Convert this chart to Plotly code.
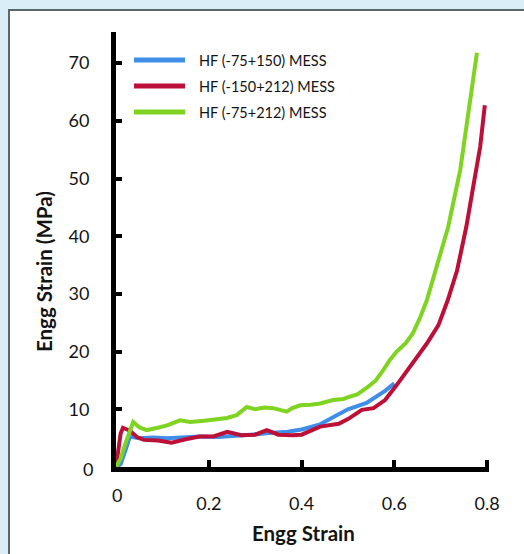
import plotly.graph_objects as go

# Engineering strain / stress curves for three MESS powder fractions
series_names = ["HF (-75+150) MESS", "HF (-150+212) MESS", "HF (-75+212) MESS"]
series_colors = ["#3f8ee8", "#bd1038", "#7fd321"]

strain_blue = [0, 0.01, 0.02, 0.03, 0.05, 0.08, 0.11, 0.15, 0.18, 0.22, 0.25, 0.29,
               0.33, 0.37, 0.40, 0.44, 0.47, 0.50, 0.54, 0.58, 0.60]
stress_blue = [0, 0.5, 2.8, 5.3, 5.0, 5.1, 5.0, 5.2, 5.3, 5.2, 5.3, 5.6,
               5.9, 6.1, 6.5, 7.4, 8.7, 10.0, 11.1, 13.2, 14.5]

strain_red = [0, 0.005, 0.01, 0.015, 0.03, 0.045, 0.06, 0.09, 0.12, 0.15, 0.18, 0.21,
              0.24, 0.27, 0.30, 0.325, 0.35, 0.38, 0.40, 0.44, 0.48, 0.50, 0.53, 0.555,
              0.58, 0.605, 0.635, 0.67, 0.695, 0.715, 0.735, 0.755, 0.77, 0.785, 0.795]
stress_red = [0, 3.0, 5.8, 6.8, 6.3, 5.2, 4.7, 4.6, 4.2, 4.8, 5.3, 5.3,
              6.1, 5.5, 5.6, 6.4, 5.6, 5.5, 5.6, 7.0, 7.5, 8.3, 9.9, 10.2,
              11.6, 14.2, 17.4, 21.4, 24.6, 28.9, 34.0, 41.6, 48.6, 55.5, 62.7]

strain_green = [0, 0.01, 0.02, 0.03, 0.037, 0.05, 0.066, 0.09, 0.11, 0.138, 0.16, 0.19,
                0.215, 0.239, 0.26, 0.282, 0.30, 0.32, 0.339, 0.368, 0.38, 0.397, 0.42,
                0.44, 0.468, 0.49, 0.504, 0.52, 0.54, 0.56, 0.576, 0.59, 0.605, 0.625,
                0.64, 0.656, 0.67, 0.69, 0.716, 0.742, 0.759, 0.778]
stress_green = [0, 1.5, 4.0, 6.5, 7.8, 6.9, 6.4, 6.8, 7.2, 8.1, 7.8, 8.0,
                8.3, 8.5, 9.0, 10.4, 10.0, 10.3, 10.2, 9.6, 10.2, 10.7, 10.8,
                11.0, 11.6, 11.8, 12.2, 12.6, 13.7, 15.0, 16.8, 18.5, 20.0, 21.5,
                23.2, 26.0, 28.9, 34.5, 41.6, 51.5, 61.3, 71.8]

x_ticks = [0.2, 0.4, 0.6, 0.8]
x_tick_labels = ["0.2", "0.4", "0.6", "0.8"]
y_ticks = [10, 20, 30, 40, 50, 60, 70]
y_tick_labels = ["10", "20", "30", "40", "50", "60", "70"]

FONT = "Lato, 'Open Sans', sans-serif"
INK = "#141414"
W, H = 524, 554
ML, MR, MT, MB = 116, 35, 32, 87
PW, PH = W - ML - MR, H - MT - MB


def px_x(p):
    return (p - ML) / PW


def px_y(p):
    return (H - MB - p) / PH


fig = go.Figure()
curves = [(strain_blue, stress_blue), (strain_red, stress_red), (strain_green, stress_green)]
for (xs, ys), name, color in zip(curves, series_names, series_colors):
    fig.add_trace(go.Scatter(x=xs, y=ys, mode="lines", name=name,
                             line=dict(color=color, width=4), showlegend=False))

shapes = [
    # white card behind the chart
    dict(type="rect", xref="paper", yref="paper", layer="below",
         x0=px_x(9), x1=px_x(540), y0=px_y(570), y1=px_y(10),
         fillcolor="white", line=dict(color="#5b6666", width=2)),
]
annotations = []

# legend swatches and labels
legend_rows = [60, 86, 112]
for row, name, color in zip(legend_rows, series_names, series_colors):
    shapes.append(dict(type="line", xref="paper", yref="paper",
                       x0=px_x(134), x1=px_x(185), y0=px_y(row), y1=px_y(row),
                       line=dict(color=color, width=5)))
    annotations.append(dict(xref="paper", yref="paper", x=px_x(197), y=px_y(row),
                            xanchor="left", yanchor="middle", showarrow=False,
                            text=name, font=dict(family=FONT, size=14.5, color=INK)))

# axis titles
annotations.append(dict(xref="paper", yref="paper", x=px_x(303), y=px_y(533),
                        xanchor="center", yanchor="middle", showarrow=False,
                        text="<b>Engg Strain</b>", font=dict(family=FONT, size=20.5, color=INK)))
annotations.append(dict(xref="paper", yref="paper", x=px_x(44), y=px_y(272),
                        xanchor="center", yanchor="middle", showarrow=False, textangle=-90,
                        text="<b>Engg Strain (MPa)</b>", font=dict(family=FONT, size=20.5, color=INK)))
# origin labels
annotations.append(dict(xref="paper", yref="paper", x=px_x(117), y=px_y(495),
                        xanchor="center", yanchor="middle", showarrow=False,
                        text="0", font=dict(family=FONT, size=18, color=INK)))
annotations.append(dict(xref="paper", yref="paper", x=px_x(95), y=px_y(469),
                        xanchor="right", yanchor="middle", showarrow=False,
                        text="0", font=dict(family=FONT, size=18, color=INK)))

fig.update_layout(
    width=W, height=H,
    margin=dict(l=ML, r=MR, t=MT, b=MB),
    paper_bgcolor="#d9eef6",
    plot_bgcolor="rgba(0,0,0,0)",
    shapes=shapes,
    annotations=annotations,
    font=dict(family=FONT, size=18, color=INK),
    xaxis=dict(range=[0, 0.804], showgrid=False, zeroline=False,
               showline=True, linecolor="black", linewidth=5,
               ticks="inside", ticklen=7, tickwidth=4, tickcolor="black",
               tickvals=x_ticks, ticktext=x_tick_labels, ticklabelstandoff=16,
               tickfont=dict(family=FONT, size=18, color=INK)),
    yaxis=dict(range=[0, 75.4], showgrid=False, zeroline=False,
               showline=True, linecolor="black", linewidth=5,
               ticks="inside", ticklen=6, tickwidth=4, tickcolor="black",
               tickvals=y_ticks, ticktext=y_tick_labels, ticklabelstandoff=18,
               tickfont=dict(family=FONT, size=18, color=INK)),
)

fig.write_html("out.html")
